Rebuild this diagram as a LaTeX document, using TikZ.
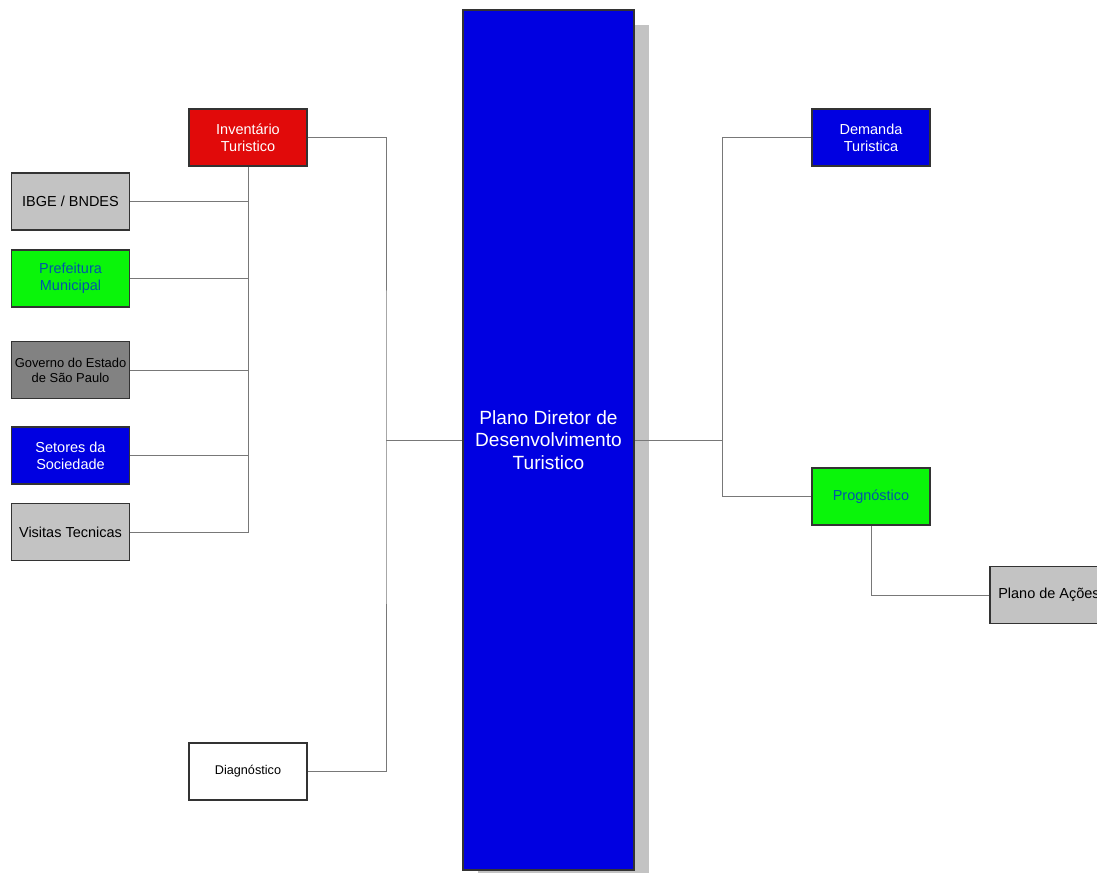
\documentclass[tikz,border=0pt]{standalone}
\usepackage{fontspec}
\setmainfont{Liberation Sans}
\usepackage{xcolor}
\usetikzlibrary{shadows}
\definecolor{boxblue}{RGB}{0,0,225}
\definecolor{boxred}{RGB}{225,10,10}
\definecolor{boxgreen}{RGB}{10,245,10}
\definecolor{boxgray}{RGB}{195,195,195}
\definecolor{darkgray}{RGB}{130,130,130}
\definecolor{tealtext}{RGB}{0,85,170}
\definecolor{linkgray}{RGB}{120,120,120}

\begin{document}
\begin{tikzpicture}[
  x=0.025cm, y=-0.025cm,
  every node/.style={font=\fontsize{10.3}{12}\selectfont},
  box/.style={rectangle, draw=black!80, line width=0.9pt, inner sep=0pt,
      minimum width=2.95cm, minimum height=1.42cm, align=center},
  graybox/.style={box, fill=boxgray},
  bluebox/.style={box, fill=boxblue, text=white},
  greenbox/.style={box, fill=boxgreen, text=tealtext},
  main/.style={rectangle, draw=black!80, line width=0.9pt, fill=boxblue,
      text=white, minimum width=4.27cm, minimum height=21.5cm, align=center,
      font=\fontsize{13.6}{16.2}\selectfont,
      drop shadow={shadow xshift=0.375cm, shadow yshift=-0.375cm,
        fill=boxgray, opacity=1}},
  link/.style={draw=linkgray, line width=0.6pt}
]
\useasboundingbox (0,0) rectangle (1097,873);

% central block
\node[main] (plano) at (548.5,440) {Plano Diretor de\\Desenvolvimento\\Turistico};

% left side
\node[box, fill=boxred, text=white] (inv) at (248,137.5) {Inventário\\Turistico};
\node[graybox] (ibge) at (70.5,201.5) {IBGE / BNDES};
\node[greenbox] (pref) at (70.5,278.5) {Prefeitura\\Municipal};
\node[box, fill=darkgray, font=\fontsize{9.2}{10.6}\selectfont] (gov) at (70.5,370) {Governo do Estado\\de São Paulo};
\node[bluebox] (setores) at (70.5,455.5) {Setores da\\Sociedade};
\node[graybox] (vis) at (70.5,532) {Visitas Tecnicas};
\node[box, fill=white, font=\fontsize{9}{11}\selectfont] (diag) at (248,771.5) {Diagnóstico};

% right side
\node[bluebox] (dem) at (871,137.5) {Demanda\\Turistica};
\node[greenbox] (prog) at (871,496.5) {Prognóstico};
\node[graybox] (acoes) at (1049,595) {Plano de Ações};

\coordinate (lbus) at (386,440);
\coordinate (rbus) at (722,440);

% connectors
\draw[link] (inv.south) |- (vis.east);
\foreach \n in {ibge,pref,gov,setores}
  \draw[link] (\n.east) -- (\n.east -| inv.south);
\draw[link] (inv.east) -| (lbus) |- (diag.east);
\draw[link] (lbus) -- (plano.west);
\draw[link] (plano.east) -- (rbus);
\draw[link] (dem.west) -| (rbus) |- (prog.west);
\draw[link] (prog.south) |- (acoes.west);
\end{tikzpicture}
\end{document}
